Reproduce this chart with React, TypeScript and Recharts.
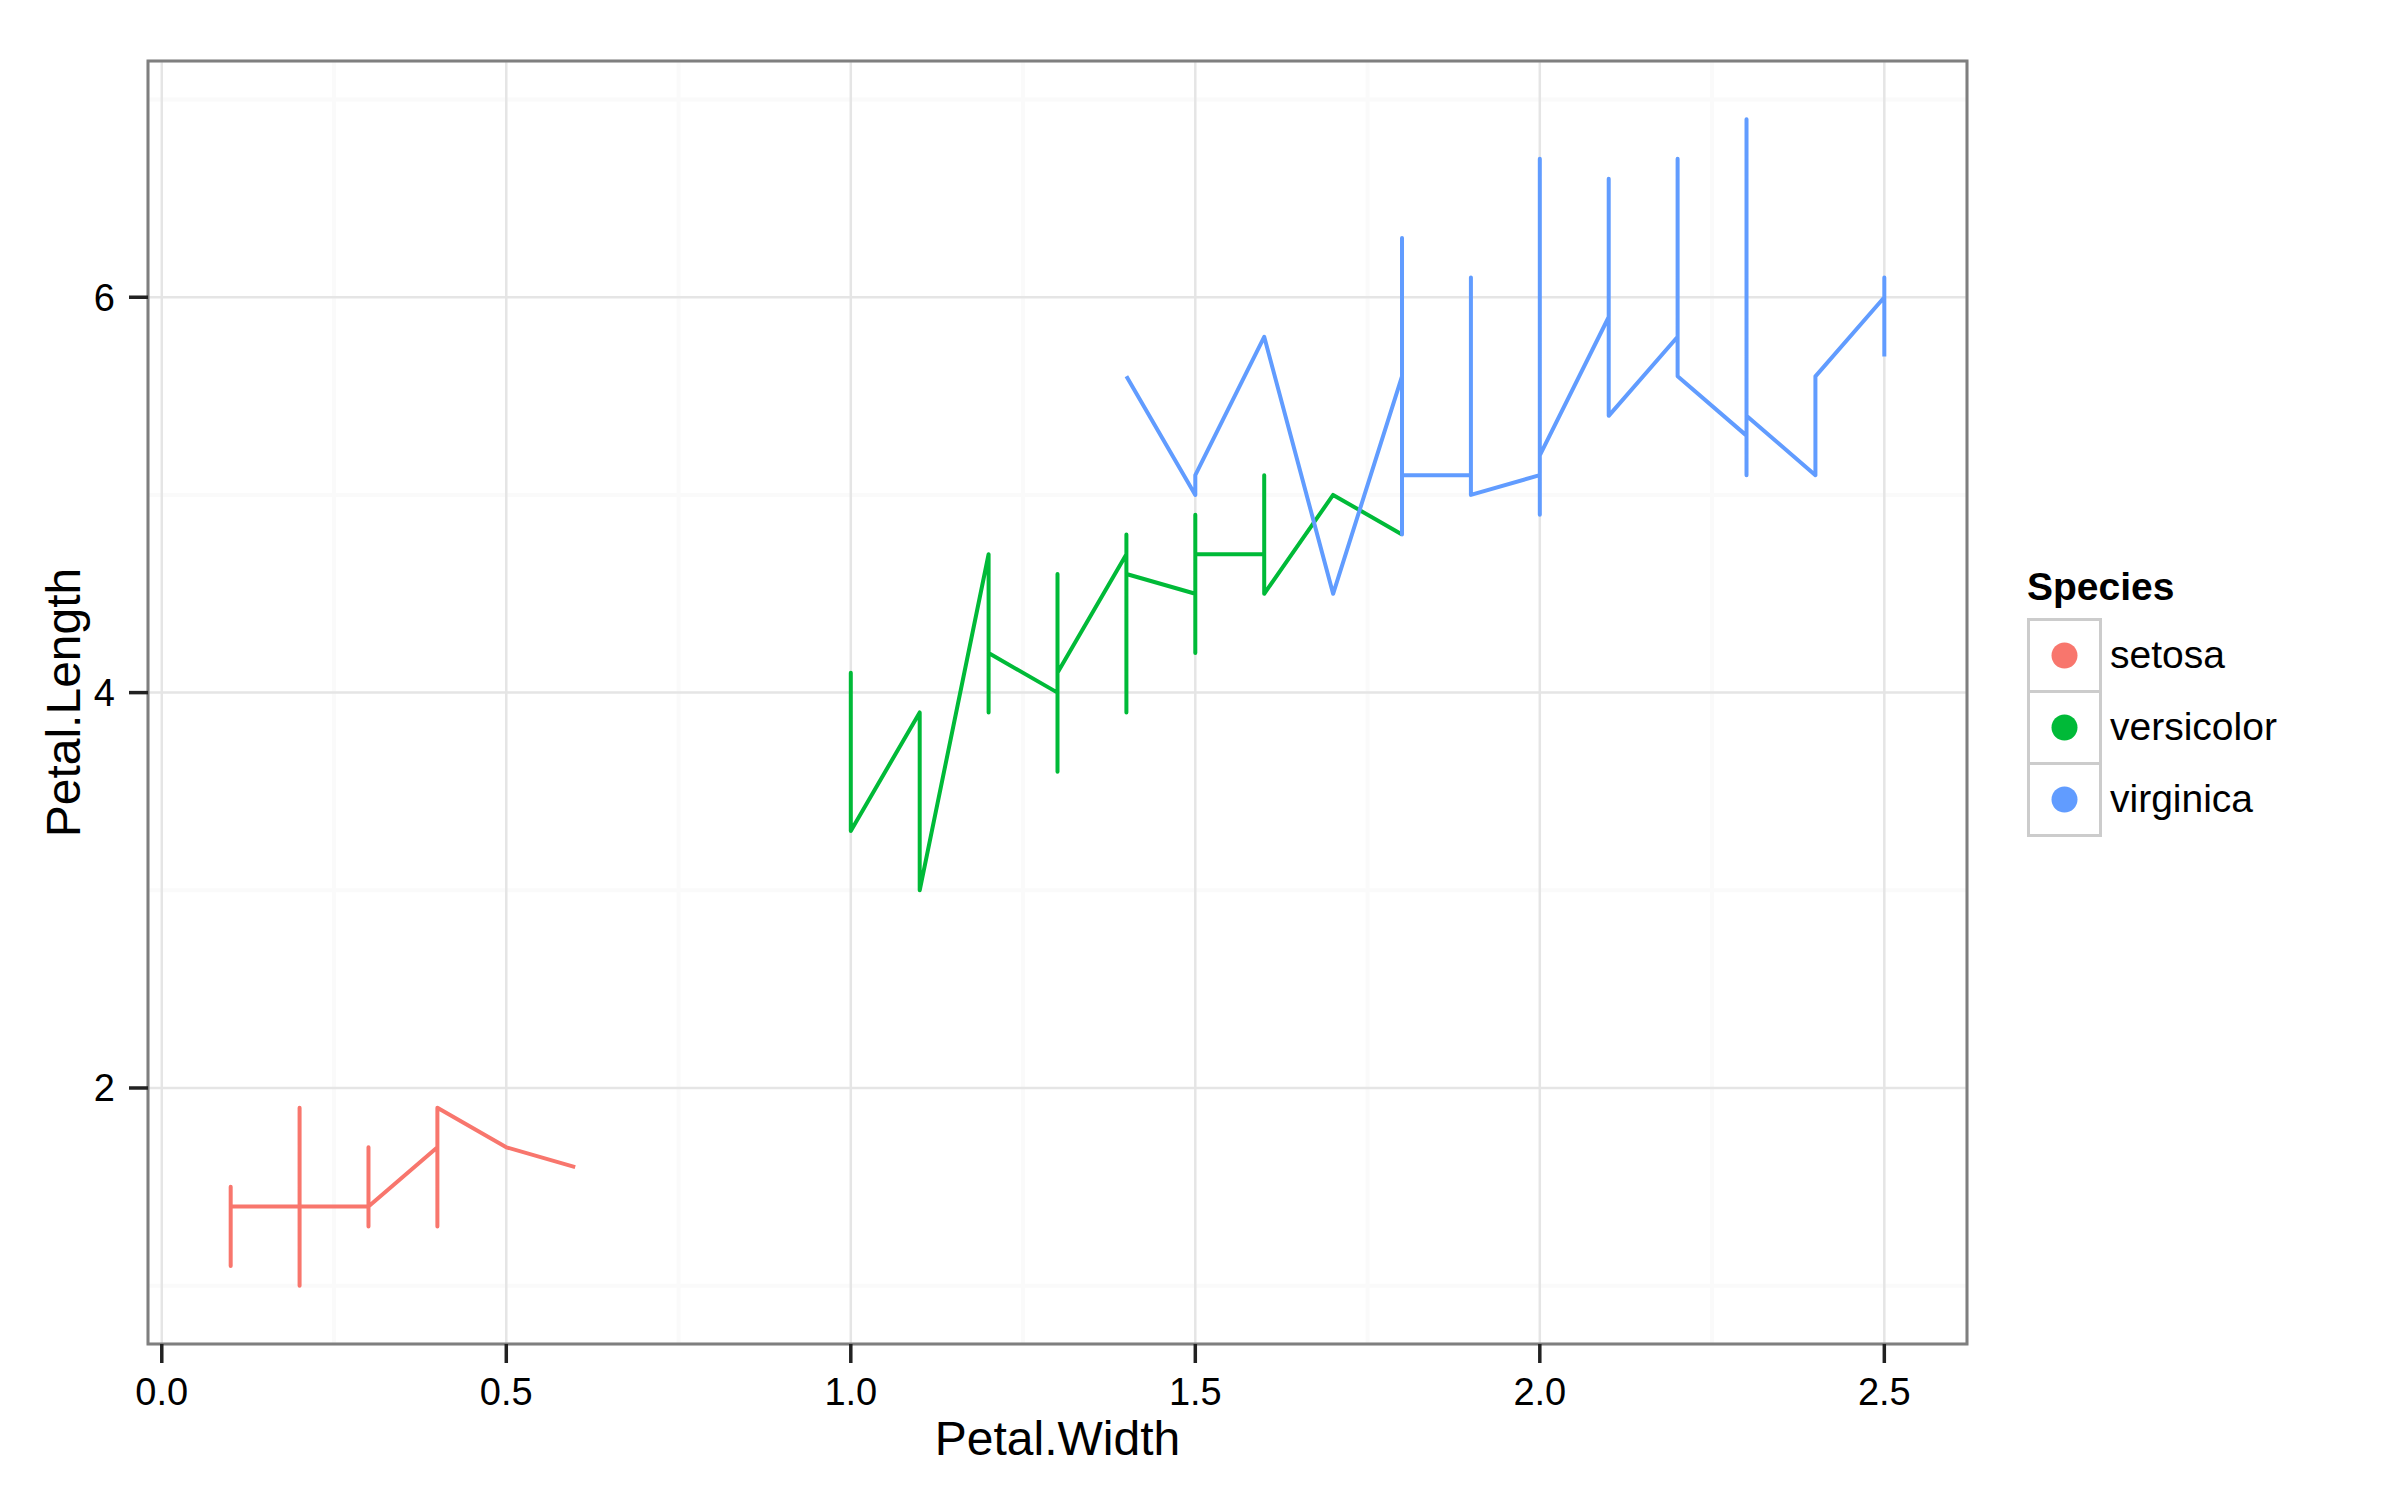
import React from "react";
import {
  LineChart,
  Line,
  XAxis,
  YAxis,
  CartesianGrid,
  ReferenceArea,
  Legend,
  Label,
} from "recharts";

// iris: Petal.Width groups (sorted) and the Petal.Length values at each width, in data order
const setosaWidth = [0.1, 0.2, 0.3, 0.4, 0.5, 0.6];
const setosaLength = [
  [1.5, 1.4, 1.1, 1.5, 1.4],
  [1.4, 1.4, 1.3, 1.5, 1.4, 1.5, 1.4, 1.5, 1.6, 1.2, 1.7, 1.0, 1.9, 1.6, 1.5, 1.4, 1.6, 1.6, 1.4, 1.5, 1.2, 1.3, 1.3, 1.5, 1.3, 1.6, 1.4, 1.5, 1.4],
  [1.4, 1.4, 1.7, 1.5, 1.3, 1.3, 1.4],
  [1.7, 1.5, 1.3, 1.5, 1.6, 1.5, 1.9],
  [1.7],
  [1.6],
];

const versicolorWidth = [1.0, 1.1, 1.2, 1.3, 1.4, 1.5, 1.6, 1.7, 1.8];
const versicolorLength = [
  [3.3, 3.5, 4.0, 4.1, 3.5, 3.7, 3.3],
  [3.9, 3.8, 3.0],
  [4.7, 3.9, 4.4, 4.0, 4.2],
  [4.0, 4.5, 4.6, 3.6, 4.0, 4.3, 4.4, 4.1, 4.0, 4.2, 4.2, 4.3, 4.1],
  [4.7, 3.9, 4.7, 4.4, 4.4, 4.8, 4.6],
  [4.5, 4.9, 4.6, 4.2, 4.5, 4.5, 4.9, 4.5, 4.5, 4.7],
  [4.7, 5.1, 4.5],
  [5.0],
  [4.8],
];

const virginicaWidth = [1.4, 1.5, 1.6, 1.7, 1.8, 1.9, 2.0, 2.1, 2.2, 2.3, 2.4, 2.5];
const virginicaLength = [
  [5.6],
  [5.0, 5.1],
  [5.8],
  [4.5],
  [5.6, 6.3, 5.8, 5.5, 4.9, 6.0, 4.8, 4.9, 5.5, 4.8, 5.1],
  [5.1, 5.3, 6.1, 5.1, 5.0],
  [5.1, 5.0, 4.9, 6.7, 6.4, 5.2],
  [5.9, 6.6, 5.5, 5.7, 5.6, 5.4],
  [5.8, 6.7, 5.6],
  [5.3, 6.9, 5.7, 6.1, 5.1, 5.9, 5.2, 5.4],
  [5.1, 5.6, 5.6],
  [6.0, 6.1, 5.7],
];

const speciesNames = ["setosa", "versicolor", "virginica"];
const speciesColors = ["#F8766D", "#00BA38", "#619CFF"];

const xTicks = [0, 0.5, 1, 1.5, 2, 2.5];
const yTicks = [2, 4, 6];
const xMinor = [0.25, 0.75, 1.25, 1.75, 2.25];
const yMinor = [1, 3, 5, 7];
const xDomain = [-0.02, 2.62];
const yDomain = [0.705, 7.195];

const FONT = '"Liberation Sans", Arial, Helvetica, sans-serif';

function toPoints(widths: number[], lengths: number[][]) {
  return widths.flatMap((w, i) => lengths[i].map((l) => ({ x: w, y: l })));
}

const series = [
  toPoints(setosaWidth, setosaLength),
  toPoints(versicolorWidth, versicolorLength),
  toPoints(virginicaWidth, virginicaLength),
];

function SpeciesLegend() {
  const row = 72;
  return (
    <div style={{ fontFamily: FONT, color: "#000" }}>
      <div style={{ fontWeight: "bold", fontSize: 39, lineHeight: "39px", marginBottom: 12 }}>
        Species
      </div>
      <div style={{ display: "flex" }}>
        <svg width={75} height={row * speciesNames.length + 3}>
          {speciesNames.map((s, i) => (
            <g key={s}>
              <rect x={1.5} y={1.5 + i * row} width={72} height={row} fill="#fff" stroke="#CCCCCC" strokeWidth={3} />
              <circle cx={37.5} cy={1.5 + i * row + row / 2} r={13} fill={speciesColors[i]} />
            </g>
          ))}
        </svg>
        <div style={{ marginLeft: 8, paddingTop: 1 }}>
          {speciesNames.map((s) => (
            <div key={s} style={{ fontSize: 39, height: row, lineHeight: `${row}px` }}>
              {s}
            </div>
          ))}
        </div>
      </div>
    </div>
  );
}

export default function App() {
  return (
    <div style={{ position: "absolute", left: 0, top: 0, width: 2400, height: 1500, background: "#fff", fontFamily: FONT }}>
      <LineChart width={2400} height={1500} margin={{ top: 61, right: 433, bottom: 0, left: 0 }}>
        <CartesianGrid verticalValues={xMinor} horizontalValues={yMinor} stroke="#FAFAFA" strokeWidth={4} />
        <CartesianGrid stroke="#E5E5E5" strokeWidth={2.5} />
        <XAxis
          dataKey="x"
          type="number"
          domain={xDomain}
          ticks={xTicks}
          interval={0}
          allowDataOverflow
          height={156}
          tickSize={19}
          tickMargin={15}
          axisLine={false}
          tickLine={{ stroke: "#222", strokeWidth: 3.5 }}
          tick={{ fill: "#000", fontSize: 38 }}
          tickFormatter={(v: number) => v.toFixed(1)}
        >
          <Label value="Petal.Width" position="insideBottom" offset={45} fill="#000" fontSize={48} />
        </XAxis>
        <YAxis
          dataKey="y"
          type="number"
          domain={yDomain}
          ticks={yTicks}
          interval={0}
          allowDataOverflow
          width={148}
          tickSize={19}
          tickMargin={14}
          axisLine={false}
          tickLine={{ stroke: "#222", strokeWidth: 3.5 }}
          tick={{ fill: "#000", fontSize: 38 }}
        >
          <Label
            content={(props: any) => {
              const vb = props.viewBox || { x: 0, y: 61, width: 148, height: 1283 };
              const cx = vb.x + 80;
              const cy = vb.y + vb.height / 2;
              return (
                <text x={cx} y={cy} transform={`rotate(-90, ${cx}, ${cy})`} textAnchor="middle" fill="#000" fontSize={48}>
                  Petal.Length
                </text>
              );
            }}
          />
        </YAxis>
        {series.map((pts, i) => (
          <Line
            key={speciesNames[i]}
            data={pts}
            dataKey="y"
            name={speciesNames[i]}
            type="linear"
            stroke={speciesColors[i]}
            strokeWidth={4}
            strokeLinejoin="round"
            dot={false}
            activeDot={false}
            isAnimationActive={false}
          />
        ))}
        <ReferenceArea
          x1={xDomain[0]}
          x2={xDomain[1]}
          y1={yDomain[0]}
          y2={yDomain[1]}
          fill="none"
          stroke="#7F7F7F"
          strokeWidth={3}
          ifOverflow="visible"
        />
        <Legend
          layout="vertical"
          align="center"
          verticalAlign="middle"
          wrapperStyle={{ left: 2027, top: 567, width: "auto", height: "auto" }}
          content={() => <SpeciesLegend />}
        />
      </LineChart>
    </div>
  );
}
